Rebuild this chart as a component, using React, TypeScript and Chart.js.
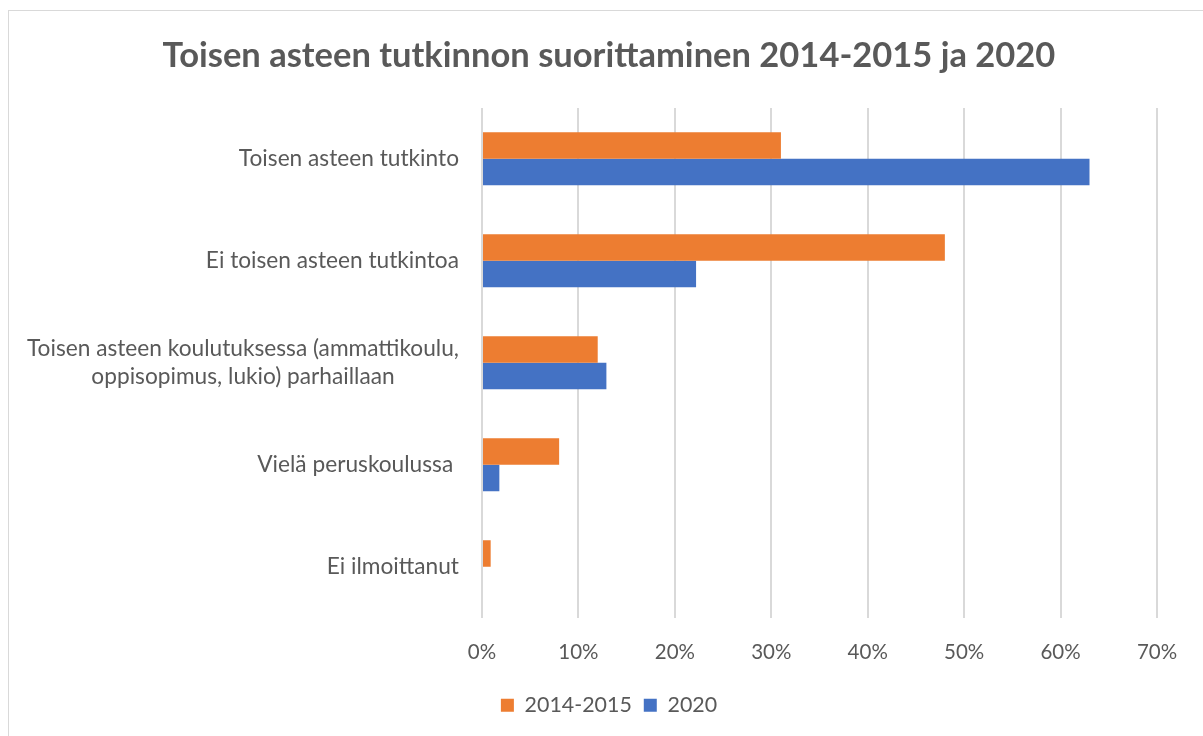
import React, { useEffect, useRef } from "react";
import { Chart, registerables } from "chart.js";

Chart.register(...registerables);

const categories: (string | string[])[] = [
  "Toisen asteen tutkinto",
  "Ei toisen asteen tutkintoa",
  ["Toisen asteen koulutuksessa (ammattikoulu,", "oppisopimus, lukio) parhaillaan"],
  "Vielä peruskoulussa ",
  "Ei ilmoittanut",
];
const series2014_2015 = [31, 48, 12, 8, 0.9];
const series2020 = [63, 22.2, 12.9, 1.8, 0];
const seriesNames = ["2014-2015", "2020"];
const xMin = 0;
const xMax = 70;
const xStep = 10;
const titleText = "Toisen asteen tutkinnon suorittaminen 2014-2015 ja 2020";

const FONT = "Lato, 'Noto Sans', sans-serif";
const TEXT = "#595959";
const ORANGE = "#ED7D31";
const BLUE = "#4472C4";
const LABEL_SIZE = 22.7;

const yLabelsPlugin = {
  id: "yLabelsCentered",
  afterDraw(chart: any) {
    const ctx = chart.ctx;
    const y = chart.scales.y;
    const right = chart.chartArea.left - 23;
    ctx.save();
    ctx.font = `${LABEL_SIZE}px ${FONT}`;
    ctx.fillStyle = TEXT;
    ctx.textBaseline = "middle";
    ctx.textAlign = "center";
    categories.forEach((lab, i) => {
      const lines = Array.isArray(lab) ? lab : [lab];
      const w = Math.max(...lines.map((l) => ctx.measureText(l).width));
      const cx = right - w / 2;
      const cy = y.getPixelForTick(i);
      const lh = 28;
      lines.forEach((l, j) => {
        ctx.fillText(l, cx, cy + (j - (lines.length - 1) / 2) * lh);
      });
    });
    ctx.restore();
  },
};

export default function App() {
  const ref = useRef<HTMLCanvasElement | null>(null);

  useEffect(() => {
    if (!ref.current) return;
    const chart = new Chart(ref.current, {
      type: "bar",
      data: {
        labels: categories as any,
        datasets: [
          {
            label: seriesNames[0],
            data: series2014_2015,
            backgroundColor: ORANGE,
            categoryPercentage: 0.52,
            barPercentage: 1.0,
          },
          {
            label: seriesNames[1],
            data: series2020,
            backgroundColor: BLUE,
            categoryPercentage: 0.52,
            barPercentage: 1.0,
          },
        ],
      },
      options: {
        indexAxis: "y",
        responsive: false,
        animation: false,
        devicePixelRatio: 1,
        layout: { padding: { left: 61, right: 46, top: 10, bottom: 10 } },
        plugins: {
          title: {
            display: true,
            text: titleText,
            color: TEXT,
            font: { family: FONT, size: 34.5, weight: "bold" },
            padding: { top: 25, bottom: 31.5 },
          },
          legend: {
            position: "bottom",
            labels: {
              color: TEXT,
              font: { family: FONT, size: 21.4 },
              boxWidth: 13,
              boxHeight: 13,
              padding: 12,
            },
          },
          tooltip: { enabled: false },
        },
        scales: {
          x: {
            min: xMin,
            max: xMax,
            ticks: {
              stepSize: xStep,
              color: TEXT,
              font: { family: FONT, size: 20.5 },
              padding: 22,
              callback: (v: any) => `${v}%`,
            },
            grid: { color: "#d9d9d9", lineWidth: 2, drawTicks: false },
            border: { display: false },
            afterFit: (scale: any) => {
              scale.height = 65;
            },
          },
          y: {
            ticks: { display: false },
            grid: { display: false },
            border: { display: false },
            afterFit: (scale: any) => {
              scale.width = 421;
            },
          },
        },
      },
      plugins: [yLabelsPlugin],
    });
    return () => chart.destroy();
  }, []);

  return (
    <div
      style={{
        position: "fixed",
        left: 0,
        top: 0,
        width: 1203,
        height: 736,
        overflow: "hidden",
        background: "#fff",
      }}
    >
      <div
        style={{
          position: "absolute",
          left: 8,
          top: 10,
          width: 1400,
          height: 900,
          border: "1px solid #d9d9d9",
        }}
      />
      <canvas
        ref={ref}
        width={1203}
        height={736}
        style={{ position: "absolute", left: 0, top: 0, width: 1203, height: 736 }}
      />
    </div>
  );
}
